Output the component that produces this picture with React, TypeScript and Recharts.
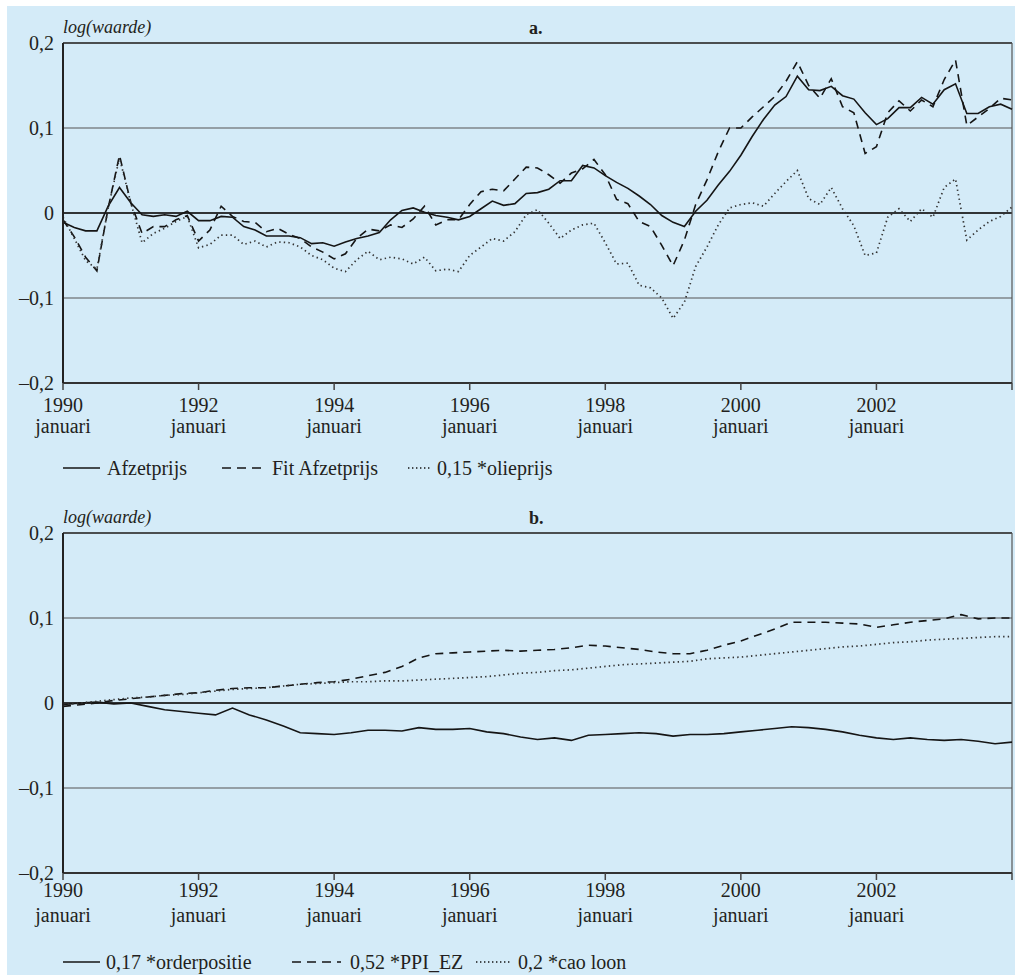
import React from "react";
import { LineChart, Line, XAxis, YAxis, CartesianGrid, ReferenceLine } from "recharts";

const FONT = '"Liberation Serif", "Times New Roman", serif';
const INK = "#231f20";

// panel a: every 2 months, jan 1990 .. jan 2004
const afzetprijs = [
  -0.011, -0.017, -0.021, -0.021, 0.008, 0.03, 0.012, -0.002, -0.004, -0.002,
  -0.004, 0.002, -0.009, -0.009, -0.004, -0.005, -0.016, -0.02, -0.027, -0.027,
  -0.027, -0.029, -0.036, -0.035, -0.039, -0.034, -0.03, -0.027, -0.023, -0.008,
  0.003, 0.006, 0.001, -0.003, -0.005, -0.008, -0.004, 0.005, 0.014, 0.009,
  0.011, 0.023, 0.024, 0.028, 0.038, 0.038, 0.056, 0.053, 0.044, 0.036,
  0.029, 0.02, 0.01, -0.003, -0.011, -0.016, 0.002, 0.015, 0.033, 0.049,
  0.068, 0.09, 0.11, 0.127, 0.137, 0.161, 0.145, 0.144, 0.149, 0.138,
  0.134, 0.118, 0.104, 0.111, 0.124, 0.124, 0.136, 0.128, 0.145, 0.152,
  0.117, 0.117, 0.125, 0.128, 0.122,
];
const fitAfzetprijs = [
  -0.008, -0.028, -0.052, -0.068, 0.006, 0.068, 0.012, -0.024, -0.016, -0.016,
  -0.008, -0.003, -0.033, -0.02, 0.008, -0.004, -0.01, -0.011, -0.022, -0.018,
  -0.025, -0.03, -0.04, -0.046, -0.054, -0.048, -0.03, -0.019, -0.021, -0.014,
  -0.017, -0.007, 0.008, -0.014, -0.008, -0.008, 0.01, 0.025, 0.028, 0.026,
  0.04, 0.054, 0.053, 0.045, 0.035, 0.047, 0.052, 0.063, 0.045, 0.016,
  0.011, -0.01, -0.016, -0.038, -0.062, -0.032, 0.01, 0.039, 0.072, 0.1,
  0.1, 0.113, 0.125, 0.137, 0.155, 0.178, 0.15, 0.135, 0.158, 0.125,
  0.118, 0.07, 0.078, 0.118, 0.132, 0.12, 0.133, 0.125, 0.157, 0.18,
  0.103, 0.113, 0.123, 0.135, 0.133,
];
const olieprijs = [
  -0.005, -0.03, -0.056, -0.066, 0.006, 0.065, 0.012, -0.035, -0.024, -0.018,
  -0.01, -0.004, -0.041, -0.037, -0.026, -0.026, -0.037, -0.033, -0.04, -0.034,
  -0.035, -0.04, -0.05, -0.055, -0.065, -0.069, -0.055, -0.045, -0.055, -0.052,
  -0.054, -0.06, -0.052, -0.068, -0.066, -0.069, -0.05, -0.04, -0.03, -0.033,
  -0.022, -0.002, 0.004, -0.012, -0.03, -0.02, -0.014, -0.012, -0.035, -0.06,
  -0.059, -0.085, -0.088, -0.1, -0.124, -0.105, -0.063, -0.04, -0.014, 0.006,
  0.01, 0.012, 0.008, 0.023, 0.037, 0.05, 0.017, 0.01, 0.03, 0.005,
  -0.015, -0.05, -0.047, -0.005, 0.005, -0.01, 0.005, -0.005, 0.03, 0.04,
  -0.032, -0.02, -0.01, -0.004, 0.007,
];

// panel b: quarterly, jan 1990 .. jan 2004
const orderpositie = [
  -0.002, 0.0, 0.001, -0.001, 0.0, -0.004, -0.008, -0.01, -0.012, -0.014,
  -0.006, -0.014, -0.02, -0.027, -0.035, -0.036, -0.037, -0.035, -0.032, -0.032,
  -0.033, -0.029, -0.031, -0.031, -0.03, -0.034, -0.036, -0.04, -0.043, -0.041,
  -0.044, -0.038, -0.037, -0.036, -0.035, -0.036, -0.039, -0.037, -0.037, -0.036,
  -0.034, -0.032, -0.03, -0.028, -0.029, -0.031, -0.034, -0.038, -0.041, -0.043,
  -0.041, -0.043, -0.044, -0.043, -0.045, -0.048, -0.046,
];
const ppiEz = [
  -0.004, -0.002, 0.0, 0.003, 0.005, 0.007, 0.009, 0.011, 0.012, 0.015,
  0.017, 0.018, 0.018, 0.02, 0.022, 0.024, 0.025, 0.028, 0.032, 0.036,
  0.043, 0.053, 0.058, 0.059, 0.06, 0.061, 0.062, 0.061, 0.062, 0.063,
  0.065, 0.068, 0.067, 0.065, 0.063, 0.06, 0.058, 0.058, 0.062, 0.068,
  0.073, 0.08, 0.087, 0.095, 0.095, 0.095, 0.094, 0.093, 0.089, 0.092,
  0.095, 0.097, 0.099, 0.104, 0.099, 0.1, 0.1,
];
const caoLoon = [
  -0.002, 0.0, 0.002, 0.004, 0.006, 0.007, 0.009, 0.01, 0.012, 0.014,
  0.016, 0.017, 0.018, 0.02, 0.022, 0.023, 0.024, 0.025, 0.025, 0.026,
  0.026, 0.027, 0.028, 0.029, 0.03, 0.031, 0.033, 0.035, 0.036, 0.038,
  0.039, 0.041, 0.043, 0.045, 0.046, 0.047, 0.048, 0.049, 0.052, 0.053,
  0.054, 0.056, 0.058, 0.06, 0.062, 0.064, 0.066, 0.067, 0.069, 0.071,
  0.072, 0.074, 0.075, 0.076, 0.077, 0.078, 0.078,
];

const xTicks = [1990, 1992, 1994, 1996, 1998, 2000, 2002, 2004];
const yTicks = [-0.2, -0.1, 0, 0.1, 0.2];
const tickSub = "januari";

const dataA = afzetprijs.map((v, i) => ({
  year: 1990 + i / 6,
  afzet: v,
  fit: fitAfzetprijs[i],
  olie: olieprijs[i],
}));
const dataB = orderpositie.map((v, i) => ({
  year: 1990 + i / 4,
  order: v,
  ppi: ppiEz[i],
  cao: caoLoon[i],
}));

const fmtY = (v: number) =>
  v === 0 ? "0" : (v < 0 ? "\u2013" : "") + Math.abs(v).toFixed(1).replace(".", ",");

type Style = "solid" | "dashed" | "dotted";
const dashFor = (s: Style) => (s === "dashed" ? "8 6" : s === "dotted" ? "1.4 3.2" : undefined);

interface SeriesDef { key: string; name: string; style: Style }

const seriesA: SeriesDef[] = [
  { key: "afzet", name: "Afzetprijs", style: "solid" },
  { key: "fit", name: "Fit Afzetprijs", style: "dashed" },
  { key: "olie", name: "0,15 *olieprijs", style: "dotted" },
];
const seriesB: SeriesDef[] = [
  { key: "order", name: "0,17 *orderpositie", style: "solid" },
  { key: "ppi", name: "0,52 *PPI_EZ", style: "dashed" },
  { key: "cao", name: "0,2 *cao loon", style: "dotted" },
];

interface LegendPos { x1: number; x2: number; tx: number }

function Panel(props: {
  top: number;
  data: any[];
  series: SeriesDef[];
  letter: string;
  d1: number;
  d2: number;
  legendY: number;
  legend: LegendPos[];
}) {
  const { top, data, series, letter, d1, d2, legendY, legend } = props;
  const renderTick = (p: any) => {
    const v = p.payload.value;
    if (v >= 2004) return <g />;
    return (
      <text x={p.x} y={p.y} textAnchor="middle" fill={INK} fontSize={20} fontFamily={FONT}>
        <tspan x={p.x} dy={d1}>{v}</tspan>
        <tspan x={p.x} dy={d2}>{tickSub}</tspan>
      </text>
    );
  };
  return (
    <div style={{ position: "absolute", left: 0, top, width: 1015, height: 490 }}>
      <LineChart width={1015} height={480} data={data} margin={{ top: 43, right: 3, bottom: 37, left: 8 }}>
        <CartesianGrid vertical={false} stroke="#555" strokeWidth={1.2} />
        <XAxis
          dataKey="year"
          type="number"
          domain={[1990, 2004]}
          ticks={xTicks}
          interval={0}
          height={60}
          tickSize={7}
          tickMargin={0}
          axisLine={{ stroke: "#333", strokeWidth: 2 }}
          tickLine={{ stroke: "#444", strokeWidth: 1.5 }}
          tick={renderTick}
        />
        <YAxis
          type="number"
          domain={[-0.2, 0.2]}
          ticks={yTicks}
          width={55}
          tickLine={false}
          tickSize={6}
          tickMargin={3}
          axisLine={{ stroke: "#222", strokeWidth: 2 }}
          tick={{ fill: INK, fontSize: 20, fontFamily: FONT }}
          tickFormatter={fmtY}
        />
        <ReferenceLine y={0} stroke="#111" strokeWidth={1.5} />
        <ReferenceLine y={0.2} stroke="#333" strokeWidth={1.6} />
        <ReferenceLine x={2004} stroke="#555" strokeWidth={1.2} />
        {series.map((s) => (
          <Line
            key={s.key}
            type="linear"
            dataKey={s.key}
            stroke={s.style === "dotted" ? "#333" : "#151515"}
            strokeWidth={s.style === "dotted" ? 1.7 : 1.6}
            strokeDasharray={dashFor(s.style)}
            dot={false}
            isAnimationActive={false}
          />
        ))}
      </LineChart>
      <div style={{ position: "absolute", left: 63, top: 16, fontSize: 18, fontStyle: "italic", lineHeight: "22px" }}>
        log(waarde)
      </div>
      <div style={{ position: "absolute", left: 529, top: 17, fontSize: 18, fontWeight: "bold", lineHeight: "22px" }}>
        {letter}
      </div>
      {series.map((s, i) => (
        <React.Fragment key={s.key}>
          <svg
            width={legend[i].x2 - legend[i].x1}
            height={22}
            style={{ position: "absolute", left: legend[i].x1, top: legendY - 11 }}
          >
            <line
              x1={0}
              x2={legend[i].x2 - legend[i].x1}
              y1={11}
              y2={11}
              stroke="#151515"
              strokeWidth={1.5}
              strokeDasharray={s.style === "dashed" ? "9 6" : s.style === "dotted" ? "1.4 2.6" : undefined}
            />
          </svg>
          <div
            style={{
              position: "absolute",
              left: legend[i].tx,
              top: legendY - 12,
              fontSize: 20,
              lineHeight: "24px",
              whiteSpace: "nowrap",
            }}
          >
            {s.name}
          </div>
        </React.Fragment>
      ))}
    </div>
  );
}

export default function App() {
  return (
    <div style={{ position: "absolute", left: 0, top: 0, width: 1015, height: 977, fontFamily: FONT, color: INK }}>
      <div style={{ position: "absolute", left: 7, top: 6, width: 1008, height: 969, background: "#d4ebf8" }} />
      <Panel
        top={0}
        data={dataA}
        series={seriesA}
        letter="a."
        d1={22}
        d2={21}
        legendY={468}
        legend={[
          { x1: 63, x2: 100, tx: 107 },
          { x1: 222, x2: 265, tx: 272 },
          { x1: 408, x2: 431, tx: 437 },
        ]}
      />
      <Panel
        top={490}
        data={dataB}
        series={seriesB}
        letter="b."
        d1={17}
        d2={25}
        legendY={472}
        legend={[
          { x1: 63, x2: 100, tx: 106 },
          { x1: 292, x2: 341, tx: 350 },
          { x1: 476, x2: 511, tx: 518 },
        ]}
      />
    </div>
  );
}
